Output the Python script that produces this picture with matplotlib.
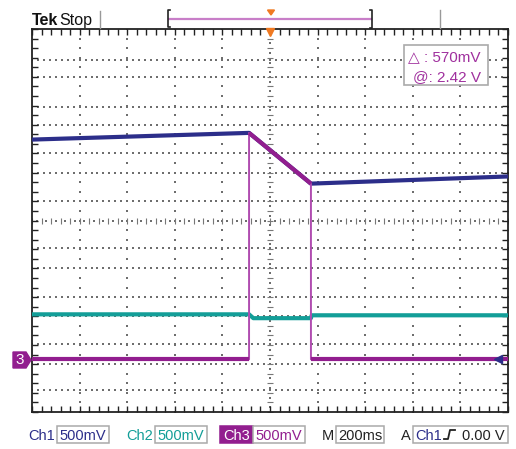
import numpy as np
import matplotlib
matplotlib.use("Agg")
import matplotlib.pyplot as plt
from matplotlib.lines import Line2D
from matplotlib.patches import Rectangle, Polygon

plt.rcParams['font.family'] = ['Liberation Sans', 'DejaVu Sans']

# ---- data (time in ms, amplitude in screen divisions) ----
ch1_t = [-1000, -88, 172, 1000]
ch1_v = [1.69, 1.83, 0.77, 0.92]

ch2_t = [-1000, -88, -70, 172, 175, 1000]
ch2_v = [-1.96, -1.96, -2.04, -2.04, -1.98, -1.98]

ch3_t = [-1000, -88, -88, 172, 172, 1000]
ch3_v = [-2.90, -2.90, 1.83, 0.77, -2.90, -2.90]

grid_rows = [-3, -2, -1, 1, 2, 3]
extra_rows = [3.36, 2.38, 1.40, 0.40, -0.58, -1.59, -2.57, -3.55]
grid_cols = [-800, -600, -400, -200, 200, 400, 600, 800]

header_left = ["Tek", "Stop"]
meas_lines = ["\u25b3 : 570mV", "@: 2.42 V"]
ch_labels = ["Ch1", "Ch2", "Ch3"]
ch_scales = ["500mV", "500mV", "500mV"]
time_scale = "200ms"
trig_src = "Ch1"
trig_level = "0.00 V"

C1 = "#2c2e8a"
C2 = "#139e98"
C3 = "#921e8f"
CT = "#a0309e"
ORANGE = "#f07a22"
GRID = "#6e6e6e"
DOT = 1.3

W, H = 516, 449
fig = plt.figure(figsize=(W / 100, H / 100), dpi=100)
ax = fig.add_axes([32 / W, 37 / H, 476 / W, 383 / H])
ax.set_xlim(-1000, 1000)
ax.set_ylim(-4, 4)

# graticule
for r in grid_rows + extra_rows:
    xs = np.arange(-1000, 1000.1, 25)
    ax.scatter(xs, np.full_like(xs, r, dtype=float), s=DOT, c=GRID, marker='s', lw=0, zorder=1)
for c in grid_cols:
    ys = np.arange(-4, 4.01, 0.2)
    ax.scatter(np.full_like(ys, c, dtype=float), ys, s=DOT, c=GRID, marker='s', lw=0, zorder=1)
# center crosshair with minor ticks
ys = np.arange(-4, 4.01, 0.2)
ax.plot(np.zeros_like(ys), ys, ls='none', marker='_', ms=4, mew=0.8, color="#777777", zorder=1)
ys2 = np.arange(-3.9, 4.0, 0.2)
ax.scatter(np.zeros_like(ys2), ys2, s=DOT, c=GRID, marker='s', lw=0, zorder=1)
xs = np.arange(-1000, 1000.1, 40)
ax.plot(xs, np.zeros_like(xs), ls='none', marker='|', ms=4, mew=0.8, color="#777777", zorder=1)
xs2 = np.arange(-980, 1000, 40)
ax.scatter(xs2, np.zeros_like(xs2), s=DOT, c=GRID, marker='s', lw=0, zorder=1)

ax.set_xticks(np.arange(-1000, 1001, 200))
ax.set_xticks(np.arange(-1000, 1001, 40), minor=True)
ax.set_yticks(np.arange(-4, 4.01, 1))
ax.set_yticks(np.arange(-4, 4.01, 0.2), minor=True)
ax.tick_params(which='both', direction='in', top=True, right=True, length=4, width=1,
               color="#222222", labelbottom=False, labelleft=False)
for s in ax.spines.values():
    s.set_linewidth(1.3)
    s.set_color("#222222")

# traces
ax.plot(ch2_t, ch2_v, color=C2, lw=3.0, solid_capstyle='butt', zorder=3)
ax.plot(ch1_t, ch1_v, color=C1, lw=3.0, solid_capstyle='butt', zorder=4)
ax.plot(ch3_t, ch3_v, color="#b04cb0", lw=1.4, zorder=5)
ax.plot(ch3_t[0:2], ch3_v[0:2], color=C3, lw=3.0, solid_capstyle='butt', zorder=6)
ax.plot(ch3_t[2:4], ch3_v[2:4], color=C3, lw=3.0, solid_capstyle='butt', zorder=6)
ax.plot(ch3_t[4:6], ch3_v[4:6], color=C3, lw=3.0, solid_capstyle='butt', zorder=6)

# trigger position marker on top border
ax.plot([0], [3.93], marker='v', ms=6, color=ORANGE, mec=ORANGE, clip_on=False, zorder=7)
# ch1 trigger level marker at right edge
ax.plot([960], [ch3_v[0]], marker='<', ms=6, color=C1, clip_on=False, zorder=7)


def fx(px):
    return px / W


def fy(py):
    return 1 - py / H


# channel 3 ground marker
pent = Polygon([(fx(13), fy(352)), (fx(26), fy(352)), (fx(31), fy(360)), (fx(26), fy(368)),
                (fx(13), fy(368))], closed=True, transform=fig.transFigure, fc=C3, ec=C3)
fig.add_artist(pent)
fig.text(fx(20), fy(360.5), "3", color="white", fontsize=11, ha='center', va='center')

# header
fig.text(fx(32), fy(25), header_left[0], fontsize=11.5, fontweight='bold', color="#111111")
fig.text(fx(92), fy(25), header_left[1], fontsize=11.5, color="#111111", ha='right')
fig.add_artist(Line2D([fx(100), fx(100)], [fy(11), fy(28)], color="#999999", lw=1))
fig.add_artist(Line2D([fx(440), fx(440)], [fy(10), fy(28)], color="#999999", lw=1))
fig.add_artist(Line2D([fx(169), fx(371)], [fy(19), fy(19)], color="#c87ec8", lw=1.6))
fig.add_artist(Line2D([fx(170), fx(168), fx(168), fx(170)], [fy(10), fy(10), fy(27), fy(27)],
                      color="#222222", lw=1.2))
fig.add_artist(Line2D([fx(370), fx(372), fx(372), fx(370)], [fy(10), fy(10), fy(28), fy(28)],
                      color="#222222", lw=1.2))
tri = Polygon([(fx(267.5), fy(10)), (fx(274.5), fy(10)), (fx(271), fy(15))], closed=True,
              transform=fig.transFigure, fc=ORANGE, ec=ORANGE)
fig.add_artist(tri)

# measurement box
fig.add_artist(Rectangle((fx(404), fy(85)), (488 - 404) / W, 40 / H, transform=fig.transFigure,
                         fc="white", ec="#aaaaaa", lw=1.2, zorder=8))
fig.text(fx(481), fy(61), meas_lines[0], fontsize=11, color=CT, zorder=9, ha='right')
fig.text(fx(481), fy(81), meas_lines[1], fontsize=11, color=CT, zorder=9, ha='right')

# bottom status bar
BY = 440
FS = 10.5


def box(x0, x1, ec="#aaaaaa", fc="white"):
    fig.add_artist(Rectangle((fx(x0), fy(443)), (x1 - x0) / W, 17 / H, transform=fig.transFigure,
                             fc=fc, ec=ec, lw=1.1))


fig.text(fx(55), fy(BY), ch_labels[0], fontsize=FS, color=C1, ha='right')
box(57, 109)
fig.text(fx(83), fy(BY), ch_scales[0], fontsize=FS, color=C1, ha='center')
fig.text(fx(153), fy(BY), ch_labels[1], fontsize=FS, color=C2, ha='right')
box(155, 207)
fig.text(fx(181), fy(BY), ch_scales[1], fontsize=FS, color=C2, ha='center')
box(220, 253, ec=C3, fc=C3)
fig.text(fx(236.5), fy(BY), ch_labels[2], fontsize=FS, color="white", ha='center')
box(253, 305)
fig.text(fx(279), fy(BY), ch_scales[2], fontsize=FS, color=C3, ha='center')
fig.text(fx(334), fy(BY), "M", fontsize=FS, color="#222222", ha='right')
box(336, 384)
fig.text(fx(360), fy(BY), time_scale, fontsize=FS, color="#222222", ha='center')
fig.text(fx(411), fy(BY), "A", fontsize=FS, color="#222222", ha='right')
box(413, 508)
fig.text(fx(415), fy(BY), trig_src, fontsize=FS, color=C1)
fig.add_artist(Line2D([fx(444), fx(448), fx(450), fx(455)], [fy(439), fy(439), fy(430), fy(430)],
                      color="#222222", lw=1.3))
fig.text(fx(505), fy(BY), trig_level, fontsize=FS, color="#222222", ha='right')

fig.savefig("out.png", dpi=100)
